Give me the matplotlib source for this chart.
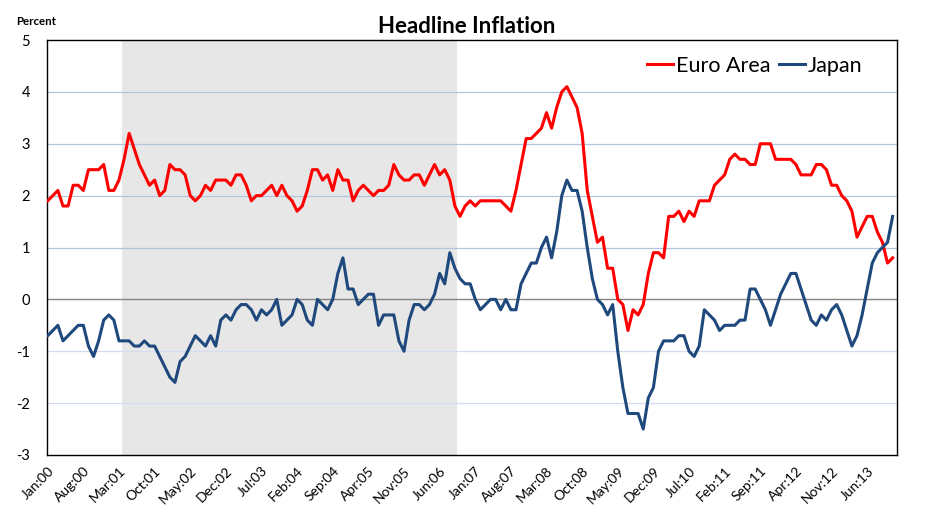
import matplotlib
matplotlib.use('Agg')
import matplotlib.pyplot as plt
import numpy as np

plt.rcParams['font.family'] = ['Lato', 'DejaVu Sans']
plt.rcParams['axes.unicode_minus'] = False

# Monthly year-on-year headline inflation, Jan 2000 - Nov 2013 (percent)
euro = [1.9, 2.0, 2.1, 1.8, 1.8, 2.2, 2.2, 2.1, 2.5, 2.5, 2.5, 2.6,
        2.1, 2.1, 2.3, 2.7, 3.2, 2.9, 2.6, 2.4, 2.2, 2.3, 2.0, 2.1,
        2.6, 2.5, 2.5, 2.4, 2.0, 1.9, 2.0, 2.2, 2.1, 2.3, 2.3, 2.3,
        2.2, 2.4, 2.4, 2.2, 1.9, 2.0, 2.0, 2.1, 2.2, 2.0, 2.2, 2.0,
        1.9, 1.7, 1.8, 2.1, 2.5, 2.5, 2.3, 2.4, 2.1, 2.5, 2.3, 2.3,
        1.9, 2.1, 2.2, 2.1, 2.0, 2.1, 2.1, 2.2, 2.6, 2.4, 2.3, 2.3,
        2.4, 2.4, 2.2, 2.4, 2.6, 2.4, 2.5, 2.3, 1.8, 1.6, 1.8, 1.9,
        1.8, 1.9, 1.9, 1.9, 1.9, 1.9, 1.8, 1.7, 2.1, 2.6, 3.1, 3.1,
        3.2, 3.3, 3.6, 3.3, 3.7, 4.0, 4.1, 3.9, 3.7, 3.2, 2.1, 1.6,
        1.1, 1.2, 0.6, 0.6, 0.0, -0.1, -0.6, -0.2, -0.3, -0.1, 0.5, 0.9,
        0.9, 0.8, 1.6, 1.6, 1.7, 1.5, 1.7, 1.6, 1.9, 1.9, 1.9, 2.2,
        2.3, 2.4, 2.7, 2.8, 2.7, 2.7, 2.6, 2.6, 3.0, 3.0, 3.0, 2.7,
        2.7, 2.7, 2.7, 2.6, 2.4, 2.4, 2.4, 2.6, 2.6, 2.5, 2.2, 2.2,
        2.0, 1.9, 1.7, 1.2, 1.4, 1.6, 1.6, 1.3, 1.1, 0.7, 0.8]

japan = [-0.7, -0.6, -0.5, -0.8, -0.7, -0.6, -0.5, -0.5, -0.9, -1.1, -0.8, -0.4,
         -0.3, -0.4, -0.8, -0.8, -0.8, -0.9, -0.9, -0.8, -0.9, -0.9, -1.1, -1.3,
         -1.5, -1.6, -1.2, -1.1, -0.9, -0.7, -0.8, -0.9, -0.7, -0.9, -0.4, -0.3,
         -0.4, -0.2, -0.1, -0.1, -0.2, -0.4, -0.2, -0.3, -0.2, 0.0, -0.5, -0.4,
         -0.3, 0.0, -0.1, -0.4, -0.5, 0.0, -0.1, -0.2, 0.0, 0.5, 0.8, 0.2,
         0.2, -0.1, 0.0, 0.1, 0.1, -0.5, -0.3, -0.3, -0.3, -0.8, -1.0, -0.4,
         -0.1, -0.1, -0.2, -0.1, 0.1, 0.5, 0.3, 0.9, 0.6, 0.4, 0.3, 0.3,
         0.0, -0.2, -0.1, 0.0, 0.0, -0.2, 0.0, -0.2, -0.2, 0.3, 0.5, 0.7,
         0.7, 1.0, 1.2, 0.8, 1.3, 2.0, 2.3, 2.1, 2.1, 1.7, 1.0, 0.4,
         0.0, -0.1, -0.3, -0.1, -1.0, -1.7, -2.2, -2.2, -2.2, -2.5, -1.9, -1.7,
         -1.0, -0.8, -0.8, -0.8, -0.7, -0.7, -1.0, -1.1, -0.9, -0.2, -0.3, -0.4,
         -0.6, -0.5, -0.5, -0.5, -0.4, -0.4, 0.2, 0.2, 0.0, -0.2, -0.5, -0.2,
         0.1, 0.3, 0.5, 0.5, 0.2, -0.1, -0.4, -0.5, -0.3, -0.4, -0.2, -0.1,
         -0.3, -0.6, -0.9, -0.7, -0.3, 0.2, 0.7, 0.9, 1.0, 1.1, 1.6]

tick_labels = ['Jan:00', 'Aug:00', 'Mar:01', 'Oct:01', 'May:02', 'Dec:02',
               'Jul:03', 'Feb:04', 'Sep:04', 'Apr:05', 'Nov:05', 'Jun:06',
               'Jan:07', 'Aug:07', 'Mar:08', 'Oct:08', 'May:09', 'Dec:09',
               'Jul:10', 'Feb:11', 'Sep:11', 'Apr:12', 'Nov:12', 'Jun:13']
tick_step = 7  # months between labels

# shaded period, in month index units
shade_start = 14.6
shade_end = 80.5

months = np.arange(len(euro))
tick_pos = np.arange(len(tick_labels)) * tick_step

W, H = 934, 513
fig = plt.figure(figsize=(W / 100, H / 100), dpi=100)
ax = fig.add_axes([46.7 / W, 1 - 455 / H, 850 / W, 415 / H])

ax.axvspan(shade_start, shade_end, color='#e7e7e7', lw=0, zorder=0)
for v in [1, 2, 3, 4]:
    ax.axhline(v, color='#b4c4de', lw=0.9, zorder=1)
for v in [-1, -2]:
    ax.axhline(v, color='#d3ddef', lw=0.9, zorder=1)
ax.axhline(0, color='#858585', lw=1.0, zorder=1)

ax.plot(months, euro, color='#ff0000', lw=2.2, label='Euro Area', zorder=3)
ax.plot(months, japan, color='#1f497d', lw=2.2, label='Japan', zorder=4)

ax.set_xlim(-0.2, 166.8)
ax.set_ylim(-3, 5)
ax.set_yticks(range(-3, 6))
ax.set_yticklabels([str(v) for v in range(-3, 6)], fontsize=10.5)
ax.set_xticks(tick_pos)
ax.set_xticklabels(tick_labels, rotation=45, ha='right', va='top',
                   rotation_mode='anchor', fontsize=10)
ax.tick_params(axis='y', length=0, pad=12)
ax.tick_params(axis='x', length=0, pad=7)

for s in ax.spines.values():
    s.set_color('black')
    s.set_linewidth(1.0)

leg = fig.legend(loc='center', bbox_to_anchor=(754.7 / W, 1 - 66 / H), ncol=2,
                 frameon=False, fontsize=15.5, handlelength=1.2,
                 handletextpad=0.15, columnspacing=0.4, borderpad=0)

fig.text(0.5, 1 - 33.3 / H, 'Headline Inflation', ha='center', va='baseline',
         fontsize=16, fontweight='bold')
fig.text(15.7 / W, 1 - 25 / H, 'Percent', ha='left', va='baseline',
         fontsize=8.3, fontweight='bold')

fig.savefig('out.png', dpi=100)
